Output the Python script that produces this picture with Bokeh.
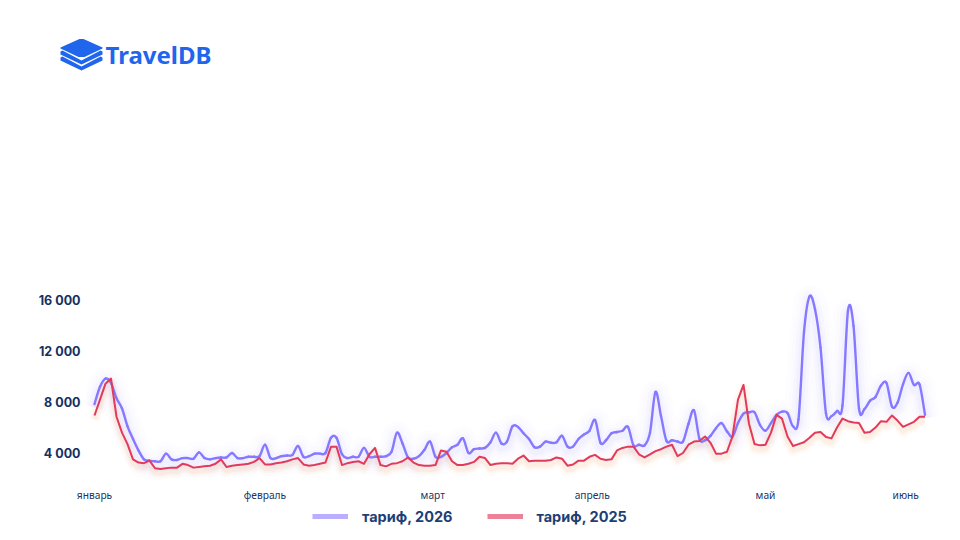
from bokeh.plotting import figure
from bokeh.models import (Range1d, FixedTicker, Legend, LegendItem, ColumnDataSource)
from bokeh.core.properties import value
from bokeh.transform import dodge
from bokeh.embed import file_html
from bokeh.resources import INLINE

# values, in thousands, one per day
tariff_2026 = [7.85,9.2,9.85,9.5,8.3,7.5,6.1,5.1,4.2,3.5,3.4,3.35,3.35,3.95,3.5,3.45,3.6,3.6,3.55,4.05,3.6,3.5,3.6,3.65,3.65,4.0,
 3.6,3.6,3.7,3.7,3.75,4.65,3.6,3.6,3.75,3.8,3.85,4.55,3.7,3.75,3.95,3.95,4.0,5.2,5.2,3.9,3.6,3.7,3.7,4.4,3.7,3.7,3.7,
 3.75,4.1,5.6,4.75,3.65,3.55,3.75,4.25,4.9,3.7,3.7,4.0,4.45,4.65,5.15,4.0,4.3,4.35,4.4,4.85,5.6,4.75,4.9,6.1,6.05,5.55,
 5.1,4.45,4.5,4.9,4.8,4.85,5.35,4.5,4.5,5.1,5.45,5.75,6.6,4.8,5.0,5.55,5.65,5.75,6.05,4.6,4.65,4.6,5.6,8.8,6.9,4.95,
 5.0,4.9,4.9,6.3,7.35,5.1,5.0,5.35,5.95,6.35,5.7,5.3,6.35,7.1,7.2,7.2,6.2,5.75,6.35,7.0,7.25,7.15,6.1,6.65,
 13.5,16.3,15.3,12.3,7.1,6.9,7.3,7.75,15.2,14.0,7.5,7.45,8.1,8.4,9.3,9.5,7.65,7.95,9.4,10.3,9.35,9.4,7.0]
tariff_2025 = [6.95,8.2,9.45,9.85,6.85,5.6,4.7,3.5,3.25,3.2,3.4,2.8,2.75,2.8,2.85,2.85,3.15,3.05,2.85,2.9,2.95,3.0,3.15,3.5,2.9,3.0,
 3.05,3.1,3.15,3.3,3.6,3.1,3.1,3.2,3.25,3.35,3.5,3.6,3.1,3.0,3.05,3.15,3.25,4.5,4.5,3.05,3.2,3.3,3.35,3.15,3.9,4.4,3.05,
 2.95,3.15,3.2,3.35,3.65,3.25,3.05,3.0,3.0,3.05,4.2,4.1,3.35,3.05,3.05,3.15,3.3,3.7,3.6,3.05,3.15,3.2,3.2,3.15,3.55,3.8,
 3.35,3.4,3.4,3.4,3.45,3.65,3.55,3.0,3.1,3.4,3.4,3.7,3.85,3.55,3.45,3.5,4.2,4.4,4.5,4.5,3.9,3.65,3.9,4.15,4.3,4.5,
 4.65,3.75,4.0,4.65,4.9,4.95,5.3,4.8,3.95,3.95,4.1,5.3,8.2,9.35,6.3,4.7,4.6,4.65,5.6,7.0,6.7,5.3,4.55,4.7,
 4.85,5.2,5.6,5.65,5.25,5.15,6.0,6.7,6.5,6.4,6.35,5.6,5.65,6.0,6.5,6.45,6.95,6.55,6.05,6.25,6.45,6.85,6.85]
month_labels = ["январь", "февраль", "март", "апрель", "май", "июнь"]
month_positions = [0, 31, 61.5, 90.5, 122, 147.5]
y_ticks = [4000, 8000, 12000, 16000]
series_names = ["тариф, 2026", "тариф, 2025"]
brand = "TravelDB"

W = 952
LOGO_H = 100
CHART_B = 505
LEG_H = 30
F_L, F_R, F_T, F_B = 86, 940, 280, 480   # frame, in page pixels
PX_PER_DAY = 5.5
UNITS_PER_PX = 78.6
BLUE = "#1f66ec"


def y_at(py):
    return 4000 + (452.5 - py) * UNITS_PER_PX


days = list(range(len(tariff_2026)))
a_vals = [v * 1000 for v in tariff_2026]
b_vals = [v * 1000 for v in tariff_2025]
src = ColumnDataSource(dict(x=days, a=a_vals, b=b_vals))


def curve_columns(xs, ys):
    """Control points of a Bezier through the read values, as the reference's smooth line."""
    n = len(xs)
    c = dict(x0=[], y0=[], x1=[], y1=[], cx0=[], cy0=[], cx1=[], cy1=[])
    for i in range(n - 1):
        pm, p0, p1, pp = max(i - 1, 0), i, i + 1, min(i + 2, n - 1)
        c["x0"].append(xs[p0]); c["y0"].append(ys[p0])
        c["x1"].append(xs[p1]); c["y1"].append(ys[p1])
        c["cx0"].append(xs[p0] + (xs[p1] - xs[pm]) / 6)
        c["cy0"].append(ys[p0] + (ys[p1] - ys[pm]) / 6)
        c["cx1"].append(xs[p1] - (xs[pp] - xs[p0]) / 6)
        c["cy1"].append(ys[p1] - (ys[pp] - ys[p0]) / 6)
    return ColumnDataSource(c)


p = figure(width=W, height=CHART_B - LOGO_H, output_backend="svg", toolbar_location=None,
           x_range=Range1d((F_L - 94) / PX_PER_DAY, (F_R - 94) / PX_PER_DAY),
           y_range=Range1d(y_at(F_B), y_at(F_T)),
           min_border_left=F_L, min_border_right=W - F_R,
           min_border_top=F_T - LOGO_H, min_border_bottom=CHART_B - F_B)
p.outline_line_color = None
p.grid.visible = False
p.yaxis.ticker = FixedTicker(ticks=y_ticks)
p.yaxis.major_label_overrides = {v: f"{v//1000} 000" for v in y_ticks}
p.xaxis.ticker = FixedTicker(ticks=month_positions)
p.xaxis.major_label_overrides = dict(zip(month_positions, month_labels))
for ax in (p.xaxis[0], p.yaxis[0]):
    ax.axis_line_color = None
    ax.major_tick_line_color = None
    ax.minor_tick_line_color = None
    ax.major_tick_out = 0
    ax.major_tick_in = 0
    ax.minor_tick_out = 0
p.yaxis.major_label_text_font = "Inter"
p.yaxis.major_label_text_font_style = "bold"
p.yaxis.major_label_text_font_size = "12.5px"
p.yaxis.major_label_text_color = "#14305f"
p.yaxis.major_label_standoff = 6
p.xaxis.major_label_text_font = "Noto Sans"
p.xaxis.major_label_text_font_size = "10.2px"
p.xaxis.major_label_text_color = "#1a3566"
p.xaxis.major_label_standoff = 7

# soft glow below each line
for w, a in [(30, 0.012), (22, 0.016), (15, 0.022), (9, 0.04)]:
    p.line("x", dodge("a", -3.5 * UNITS_PER_PX), source=src, line_width=w, line_alpha=a,
           line_color="#6a5cff", line_join="round")
for w, a in [(13, 0.03), (9, 0.05), (5, 0.08)]:
    p.line("x", dodge("b", -4 * UNITS_PER_PX), source=src, line_width=w, line_alpha=a,
           line_color="#f29a50", line_join="round")

p.bezier("x0", "y0", "x1", "y1", "cx0", "cy0", "cx1", "cy1", source=curve_columns(days, a_vals),
         line_width=2.4, line_color="#8678ff", line_cap="round")
p.line("x", "b", source=src, line_width=2.0, line_color="#e23a5c", line_join="round")

# logo strip: its axes run in page pixels, top down
logo = figure(width=W, height=LOGO_H, output_backend="svg", toolbar_location=None,
              x_range=Range1d(0, W), y_range=Range1d(LOGO_H, 0),
              min_border=0, x_axis_location=None, y_axis_location=None)
logo.outline_line_color = None
logo.grid.visible = False
logo.patches(
    [[60, 79, 83, 102, 102, 84, 78, 60],
     [60, 62, 81, 100, 102, 102, 81, 60],
     [60, 62, 81, 100, 102, 102, 81, 60]],
    [[47, 38.5, 38.5, 47, 48, 56.5, 56.5, 48],
     [51, 50, 60, 50, 51, 54, 64, 54],
     [57, 56, 66, 56, 57, 60, 70, 60]],
    fill_color=BLUE, line_color=None)
logo.text([105], [54], text=[brand], text_font=value("Noto Sans"), text_font_style="bold",
          text_font_size="24px", text_color=BLUE, text_baseline="alphabetic")

# legend strip
strip = figure(width=W, height=LEG_H, output_backend="svg", toolbar_location=None,
               x_range=Range1d(0, W), y_range=Range1d(0, LEG_H),
               min_border=0, x_axis_location=None, y_axis_location=None)
strip.outline_line_color = None
strip.grid.visible = False
# key renderers lie off the strip: only their legend swatches show
k1 = strip.line([-20, -10], [-20, -20], line_width=5, line_color="#b9aeff")
k2 = strip.line([-20, -10], [-20, -20], line_width=5, line_color="#ec8198")
legend = Legend(items=[LegendItem(label=series_names[0], renderers=[k1]),
                       LegendItem(label=series_names[1], renderers=[k2])],
                orientation="horizontal", location=(312, 10),
                glyph_width=36, glyph_height=12, label_standoff=14, spacing=34,
                padding=0, margin=0, border_line_color=None, background_fill_alpha=0,
                label_text_font="Inter", label_text_font_size="14.5px",
                label_text_font_style="bold",
                label_text_color="#1d3f75", label_height=18)
strip.add_layout(legend, "center")

open("out.html", "w").write(file_html((logo, p, strip), INLINE))
